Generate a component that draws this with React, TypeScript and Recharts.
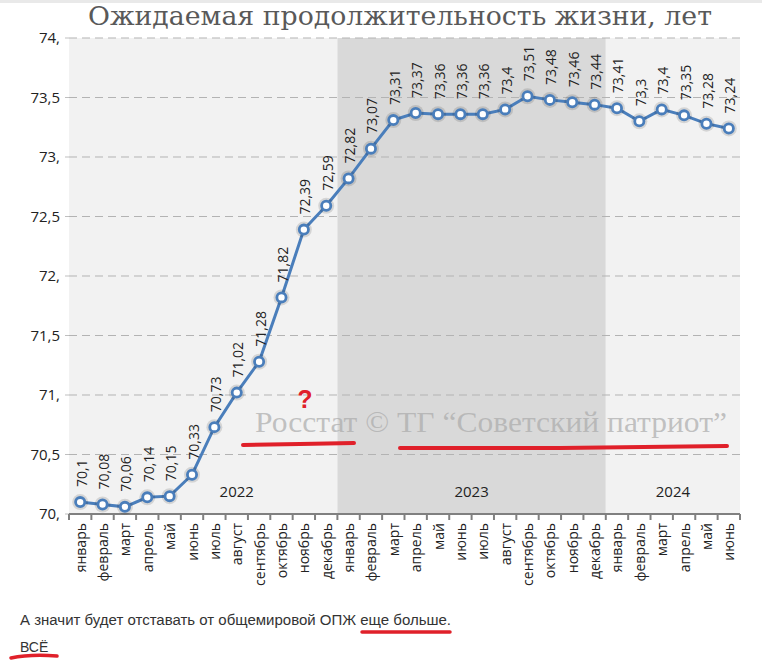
import React from 'react';
import { ComposedChart, Line, XAxis, YAxis, ReferenceArea, ReferenceLine, LabelList } from 'recharts';

const years = ['2022', '2023', '2024'];
const monthNames = ['январь', 'февраль', 'март', 'апрель', 'май', 'июнь', 'июль', 'август', 'сентябрь', 'октябрь', 'ноябрь', 'декабрь'];
const values2022 = [70.1, 70.08, 70.06, 70.14, 70.15, 70.33, 70.73, 71.02, 71.28, 71.82, 72.39, 72.59];
const values2023 = [72.82, 73.07, 73.31, 73.37, 73.36, 73.36, 73.36, 73.4, 73.51, 73.48, 73.46, 73.44];
const values2024 = [73.41, 73.3, 73.4, 73.35, 73.28, 73.24];
const yTicks = [70, 70.5, 71, 71.5, 72, 72.5, 73, 73.5, 74];

const title = 'Ожидаемая продолжительность жизни, лет';
const watermark = 'Росстат © ТГ “Советский патриот”';
const bottomText = 'А значит будет отставать от общемировой ОПЖ еще больше.';
const bottomText2 = 'ВСЁ';

const seriesByYear = [values2022, values2023, values2024];
const data = years.flatMap((y, yi) =>
  seriesByYear[yi].map((v, i) => ({ key: `${y}-${i + 1}`, month: monthNames[i], year: y, value: v }))
);

const W = 762;
const H = 660;
const MARGIN = { top: 38, right: 22, bottom: 46, left: 9 };
const Y_AXIS_W = 60;
const X_AXIS_H = 100;
const PLOT_W = W - MARGIN.left - MARGIN.right - Y_AXIS_W;
const HALF_BAND = PLOT_W / data.length / 2;

const BLUE = '#4a7ebb';
const RED = '#e0202a';
const FONT = '"Open Sans", "Noto Sans", sans-serif';
const bandFills = ['#f2f2f2', '#d9d9d9', '#f2f2f2'];
const yearLabelFrac = [0.625, 0.5, 0.5];

const fmt = (v: number) => (Number.isInteger(v) ? `${v},` : String(v).replace('.', ','));

const XTick = (props: any) => {
  const { x, y, index } = props;
  const d = data[index];
  const last = index === data.length - 1;
  return (
    <g>
      <line x1={x - HALF_BAND} x2={x - HALF_BAND} y1={y} y2={y + 6} stroke="#808080" strokeWidth={2} />
      {last && <line x1={x + HALF_BAND} x2={x + HALF_BAND} y1={y} y2={y + 6} stroke="#808080" strokeWidth={2} />}
      <text
        x={x}
        y={y + 9}
        transform={`rotate(-90, ${x}, ${y + 9})`}
        textAnchor="end"
        dominantBaseline="central"
        fontFamily={FONT}
        fontSize={14}
        fill="#222"
      >
        {d ? d.month : ''}
      </text>
    </g>
  );
};

const Dot = (props: any) => {
  const { cx, cy } = props;
  if (cx == null || cy == null) return null;
  return (
    <g>
      <circle cx={cx} cy={cy} r={8} fill="rgba(0,0,0,0.12)" />
      <circle cx={cx} cy={cy} r={4.6} fill="#fff" stroke={BLUE} strokeWidth={2.8} />
    </g>
  );
};

const ValueLabel = (props: any) => {
  const { x, y, value } = props;
  const ty = y - 15;
  return (
    <text
      x={x + 1}
      y={ty}
      transform={`rotate(-90, ${x + 1}, ${ty})`}
      textAnchor="start"
      dominantBaseline="central"
      fontFamily={FONT}
      fontSize={14}
      fill="#222"
    >
      {fmt(value)}
    </text>
  );
};

const yearLabel = (yi: number) => (props: any) => {
  const vb = props.viewBox;
  if (!vb) return null;
  return (
    <text
      x={vb.x + vb.width * yearLabelFrac[yi]}
      y={vb.y + vb.height - 23}
      textAnchor="middle"
      dominantBaseline="central"
      fontFamily={FONT}
      fontSize={15}
      fill="#222"
    >
      {years[yi]}
    </text>
  );
};

export default function App() {
  return (
    <div style={{ position: 'absolute', left: 0, top: 0, width: W, height: H, background: '#fff' }}>
      <ComposedChart width={W} height={H} data={data} margin={MARGIN}>
        <XAxis
          dataKey="key"
          scale="band"
          height={X_AXIS_H}
          interval={0}
          tick={<XTick />}
          tickLine={false}
          tickSize={0}
          tickMargin={0}
          axisLine={{ stroke: '#808080', strokeWidth: 2 }}
        />
        <YAxis
          width={Y_AXIS_W}
          domain={[70, 74]}
          ticks={yTicks}
          tickFormatter={fmt}
          axisLine={false}
          tickLine={{ stroke: '#bfbfbf' }}
          tickSize={4}
          tickMargin={5}
          tick={{ fontFamily: FONT, fontSize: 15, fill: '#222' }}
        />
        {years.map((y, yi) => {
          const items = data.filter((d) => d.year === y);
          return (
            <ReferenceArea
              key={y}
              x1={items[0].key}
              x2={items[items.length - 1].key}
              y1={70}
              y2={74}
              fill={bandFills[yi]}
              fillOpacity={1}
              stroke="none"
              label={yearLabel(yi)}
            />
          );
        })}
        {yTicks.slice(1).map((t) => (
          <ReferenceLine key={t} y={t} stroke="#b3b3b3" strokeDasharray="8 5" strokeWidth={1} />
        ))}
        <Line
          type="linear"
          dataKey="value"
          stroke={BLUE}
          strokeWidth={3}
          dot={<Dot />}
          activeDot={false}
          isAnimationActive={false}
        >
          <LabelList dataKey="value" content={<ValueLabel />} />
        </Line>
      </ComposedChart>
      <svg
        width={W}
        height={H}
        style={{ position: 'absolute', left: 0, top: 0, pointerEvents: 'none' }}
      >
        <rect x={0} y={0} width={W} height={3} fill="#e9e9e9" />
        <text x={400} y={25} textAnchor="middle" fontFamily='"DejaVu Serif", serif' fontSize={26} fill="#595959" textLength={624} lengthAdjust="spacingAndGlyphs">
          {title}
        </text>
        <text x={255} y={432} fontFamily='"Liberation Serif", serif' fontSize={29} fill="#aaa" fillOpacity={0.7} textLength={472} lengthAdjust="spacingAndGlyphs">
          {watermark}
        </text>
        <text x={305} y={408} textAnchor="middle" fontFamily='"Liberation Sans", sans-serif' fontWeight="bold" fontSize={25} fill={RED}>?</text>
        <path d="M243,445 L300,444 L354,443" stroke={RED} strokeWidth={4} strokeLinecap="round" fill="none" />
        <path d="M400,448 L560,448 L727,446" stroke={RED} strokeWidth={4} strokeLinecap="round" fill="none" />
        <text x={20} y={625} fontFamily='"Liberation Sans", Arial, sans-serif' fontSize={14} fill="#333" textLength={431} lengthAdjust="spacingAndGlyphs">
          {bottomText}
        </text>
        <path d="M362,632 L450,632" stroke={RED} strokeWidth={3.5} strokeLinecap="round" fill="none" />
        <text x={20} y={652} fontFamily='"Liberation Sans", Arial, sans-serif' fontSize={14} fill="#333">
          {bottomText2}
        </text>
        <path d="M11,658 Q30,654 57,656" stroke={RED} strokeWidth={3.5} strokeLinecap="round" fill="none" />
      </svg>
    </div>
  );
}
